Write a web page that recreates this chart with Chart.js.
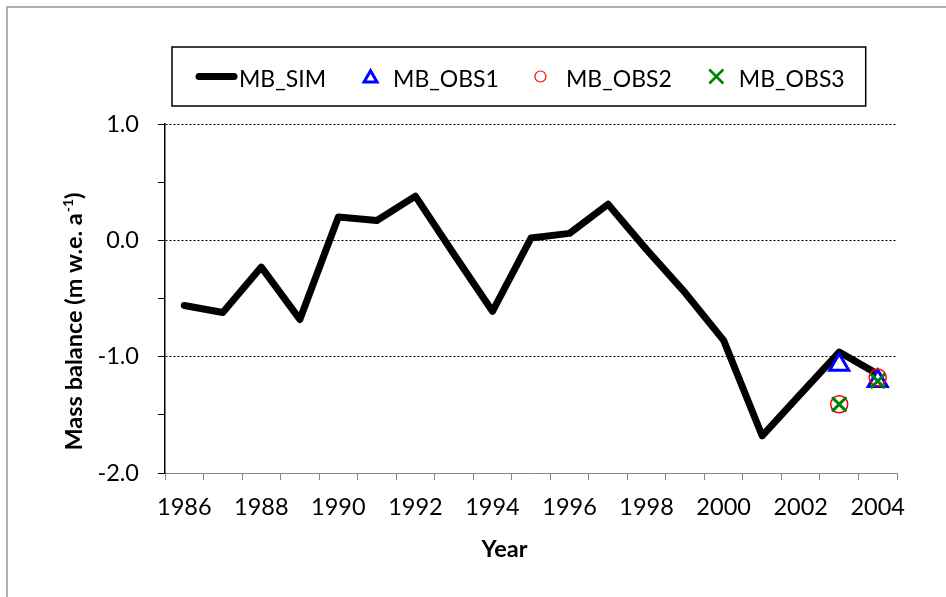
<!DOCTYPE html>
<html lang="en">
<head>
<meta charset="UTF-8">
<title>Mass balance 1986-2004</title>
<script src="https://cdn.jsdelivr.net/npm/chart.js@4"></script>
<style>
  body { margin: 0; background: #fff; }
  #wrap { width: 946px; height: 597px; }
</style>
</head>
<body>
<div id="wrap"><canvas id="mbChart" width="946" height="597"></canvas></div>
<script>
// values
const years = ['1986', '1987', '1988', '1989', '1990', '1991', '1992', '1993', '1994', '1995',
               '1996', '1997', '1998', '1999', '2000', '2001', '2002', '2003', '2004'];
const mbSim = [-0.56, -0.62, -0.23, -0.68, 0.20, 0.17, 0.38, -0.12, -0.61, 0.02,
               0.06, 0.31, -0.08, -0.45, -0.86, -1.68, -1.32, -0.96, -1.15];
const obsYears = ['2003', '2004'];
const mbObs1 = [-1.07, -1.21];
const mbObs2 = [-1.41, -1.18];
const mbObs3 = [-1.41, -1.21];
const yLabelled = [1.0, 0.0, -1.0, -2.0];

const FONT = 'Lato, "Open Sans", sans-serif';
const FS = 23.5;
const LEGEND_FS = 23;

Chart.defaults.font.family = FONT;
Chart.defaults.font.size = FS;
Chart.defaults.color = '#000';

// white background + grey frame (only top/left edges are inside the image)
const framePlugin = {
  id: 'frame',
  beforeDraw(chart) {
    const ctx = chart.ctx;
    ctx.save();
    ctx.fillStyle = '#fff';
    ctx.fillRect(0, 0, chart.width, chart.height);
    ctx.strokeStyle = '#b0b0b0';
    ctx.lineWidth = 2;
    ctx.strokeRect(7, 7, chart.width + 20, chart.height + 20);
    ctx.restore();
  }
};

// boxed legend like the Excel one
const legendPlugin = {
  id: 'boxLegend',
  afterDraw(chart) {
    const ctx = chart.ctx;
    const cy = 76.5;
    const gap = 36;
    let x = 196;
    ctx.save();
    ctx.font = LEGEND_FS + 'px ' + FONT;
    ctx.textBaseline = 'alphabetic';
    ctx.textAlign = 'left';
    chart.data.datasets.forEach(ds => {
      const col = ds.borderColor;
      ctx.strokeStyle = col;
      ctx.lineCap = 'round';
      ctx.lineJoin = 'miter';
      if (ds.showLine !== false) {
        ctx.lineWidth = 7;
        ctx.beginPath();
        ctx.moveTo(x + 3, cy);
        ctx.lineTo(x + 38, cy);
        ctx.stroke();
        x += 43;
      } else {
        const cx = x + 8.5;
        ctx.beginPath();
        if (ds.pointStyle === 'triangle') {
          const r = 7.5, c = cy + 1.8;
          ctx.lineWidth = 3;
          ctx.moveTo(cx, c - r);
          ctx.lineTo(cx + r * 0.866, c + r / 2);
          ctx.lineTo(cx - r * 0.866, c + r / 2);
          ctx.closePath();
        } else if (ds.pointStyle === 'circle') {
          ctx.lineWidth = 1.2;
          ctx.arc(cx - 3, cy, 5.5, 0, Math.PI * 2);
        } else {
          const h = 7;
          ctx.lineWidth = 2.5;
          ctx.lineCap = 'butt';
          ctx.moveTo(cx - h, cy - h); ctx.lineTo(cx + h, cy + h);
          ctx.moveTo(cx + h, cy - h); ctx.lineTo(cx - h, cy + h);
        }
        ctx.stroke();
        x += 17 + 14;
      }
      ctx.fillStyle = '#000';
      ctx.fillText(ds.label, x, 87);
      x += ctx.measureText(ds.label).width + gap;
    });
    const right = x - gap + 21;
    ctx.strokeStyle = '#000';
    ctx.lineWidth = 1.5;
    ctx.strokeRect(172, 47, right - 172, 59);
    ctx.restore();
  }
};

// axis titles (y one has a superscript)
const titlePlugin = {
  id: 'axisTitles',
  afterDraw(chart) {
    const ctx = chart.ctx;
    ctx.save();
    ctx.fillStyle = '#000';
    ctx.textBaseline = 'alphabetic';
    ctx.textAlign = 'left';

    const bold = 'bold ' + FS + 'px ' + FONT;
    const sup = 'bold 14px ' + FONT;
    const main = 'Mass balance (m w.e. a';
    ctx.font = bold;
    const w1 = ctx.measureText(main).width;
    const w3 = ctx.measureText(')').width;
    ctx.font = sup;
    const w2 = ctx.measureText('-1').width;
    const total = w1 + 1 + w2 + w3;
    ctx.translate(82, 321.5 + total / 2);
    ctx.rotate(-Math.PI / 2);
    ctx.font = bold;
    ctx.fillText(main, 0, 0);
    ctx.font = sup;
    ctx.fillText('-1', w1 + 1, -9);
    ctx.font = bold;
    ctx.fillText(')', w1 + 1 + w2, 0);
    ctx.setTransform(1, 0, 0, 1, 0, 0);

    ctx.font = bold;
    ctx.textAlign = 'center';
    ctx.fillText('Year', 504.5, 557);
    ctx.restore();
  }
};

const toPoints = vals => obsYears.map((yr, i) => ({ x: yr, y: vals[i] }));

new Chart(document.getElementById('mbChart'), {
  type: 'line',
  data: {
    labels: years,
    datasets: [
      {
        label: 'MB_SIM',
        data: mbSim,
        borderColor: '#000000',
        backgroundColor: '#000000',
        borderWidth: 7,
        pointRadius: 0,
        pointHoverRadius: 0,
        tension: 0,
        borderJoinStyle: 'round',
        borderCapStyle: 'round',
        order: 4
      },
      {
        label: 'MB_OBS1',
        data: toPoints(mbObs1),
        showLine: false,
        pointStyle: 'triangle',
        pointRadius: 11,
        pointBorderWidth: 3,
        borderColor: '#0000ff',
        pointBackgroundColor: '#ffffff',
        order: 3
      },
      {
        label: 'MB_OBS2',
        data: toPoints(mbObs2),
        showLine: false,
        pointStyle: 'circle',
        pointRadius: 8.5,
        pointBorderWidth: 1.5,
        borderColor: '#ff0000',
        pointBackgroundColor: 'rgba(0,0,0,0)',
        order: 2
      },
      {
        label: 'MB_OBS3',
        data: toPoints(mbObs3),
        showLine: false,
        pointStyle: 'crossRot',
        pointRadius: 10,
        pointBorderWidth: 3,
        borderColor: '#008000',
        pointBackgroundColor: 'rgba(0,0,0,0)',
        order: 1
      }
    ]
  },
  options: {
    responsive: false,
    animation: false,
    events: [],
    layout: { padding: { top: 124, right: 49, bottom: 0, left: 0 } },
    plugins: {
      legend: { display: false },
      tooltip: { enabled: false }
    },
    scales: {
      x: {
        type: 'category',
        offset: true,
        afterFit: s => { s.height = 124; },
        grid: {
          offset: true,
          drawOnChartArea: false,
          tickColor: '#868686',
          tickLength: 7,
          tickWidth: 1
        },
        border: { color: '#868686', width: 1 },
        ticks: {
          autoSkip: false,
          maxRotation: 0,
          minRotation: 0,
          padding: 13,
          callback: function (value, index) {
            return index % 2 === 0 ? this.getLabelForValue(value) : '';
          }
        }
      },
      y: {
        min: -2,
        max: 1,
        afterFit: s => { s.width = 165; },
        grid: {
          color: c => (c.tick && yLabelled.includes(c.tick.value) && c.tick.value !== -2)
            ? '#000000' : 'rgba(0,0,0,0)',
          lineWidth: 1,
          tickColor: '#000000',
          tickLength: 7,
          tickWidth: 1
        },
        border: { color: '#000000', width: 1.5, dash: [2, 2] },
        ticks: {
          stepSize: 0.5,
          padding: 19,
          callback: v => yLabelled.includes(v) ? v.toFixed(1) : ''
        }
      }
    }
  },
  plugins: [framePlugin, legendPlugin, titlePlugin]
});
</script>
</body>
</html>
